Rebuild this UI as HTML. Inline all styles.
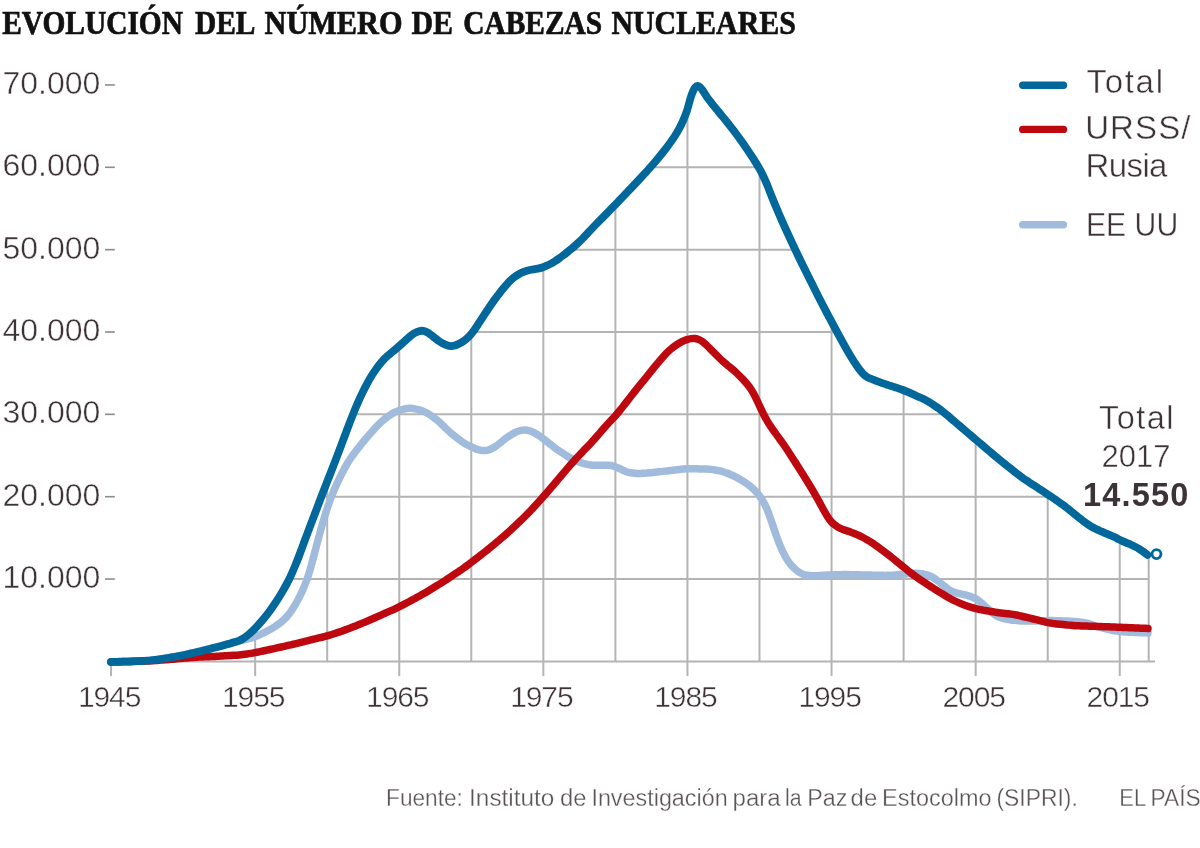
<!DOCTYPE html>
<html lang="es"><head><meta charset="utf-8">
<title>Evolución del número de cabezas nucleares</title>
<style>
html,body{margin:0;padding:0;background:#fff;}
body{width:1200px;height:848px;overflow:hidden;position:relative;}
svg{position:absolute;left:0;top:0;display:block;}
text{font-family:"Liberation Sans",sans-serif;fill:#3c3237;stroke:#fff;stroke-width:0.45px;}
.bold{stroke:none;}
.title{font-family:"Liberation Serif",serif;font-weight:bold;fill:#111;stroke:#111;stroke-width:0.7px;}
.foot{fill:#5a5456;stroke-width:0.3px;}
</style></head><body>
<svg width="1200" height="848" viewBox="0 0 1200 848">
<rect width="1200" height="848" fill="#fff"/>
<defs><clipPath id="under"><path d="M111.00 661.90C111.67 661.89 113.67 661.86 115.00 661.84C116.33 661.82 117.67 661.79 119.00 661.77C120.33 661.75 121.67 661.73 123.00 661.71C124.33 661.68 125.67 661.66 127.00 661.63C128.33 661.59 129.67 661.55 131.00 661.50C132.33 661.45 133.67 661.38 135.00 661.32C136.33 661.25 137.67 661.18 139.00 661.10C140.33 661.03 141.67 660.96 143.00 660.88C144.33 660.80 145.67 660.73 147.00 660.63C148.33 660.53 149.67 660.43 151.00 660.30C152.33 660.18 153.67 660.03 155.00 659.88C156.33 659.72 157.67 659.55 159.00 659.36C160.33 659.18 161.67 658.97 163.00 658.76C164.33 658.55 165.67 658.33 167.00 658.11C168.33 657.88 169.67 657.66 171.00 657.43C172.33 657.20 173.67 656.98 175.00 656.74C176.33 656.50 177.67 656.26 179.00 656.01C180.33 655.75 181.67 655.48 183.00 655.20C184.33 654.92 185.67 654.62 187.00 654.32C188.33 654.03 189.67 653.72 191.00 653.42C192.33 653.12 193.67 652.82 195.00 652.52C196.33 652.21 197.67 651.91 199.00 651.59C200.33 651.27 201.67 650.95 203.00 650.62C204.33 650.29 205.67 649.95 207.00 649.61C208.33 649.28 209.67 648.94 211.00 648.59C212.33 648.25 213.67 647.91 215.00 647.57C216.33 647.22 217.67 646.88 219.00 646.52C220.33 646.16 221.67 645.80 223.00 645.43C224.33 645.06 225.67 644.68 227.00 644.30C228.33 643.92 229.67 643.54 231.00 643.16C232.33 642.78 233.67 642.42 235.00 642.01C236.33 641.61 237.67 641.31 239.00 640.74C240.33 640.17 241.67 639.42 243.00 638.59C244.33 637.75 245.67 636.77 247.00 635.72C248.33 634.67 249.67 633.48 251.00 632.28C252.33 631.08 253.67 629.85 255.00 628.50C256.33 627.15 257.67 625.68 259.00 624.18C260.33 622.68 261.67 621.11 263.00 619.50C264.33 617.89 265.67 616.24 267.00 614.52C268.33 612.79 269.67 611.01 271.00 609.15C272.33 607.30 273.67 605.37 275.00 603.37C276.33 601.38 277.67 599.33 279.00 597.20C280.33 595.07 281.67 592.91 283.00 590.61C284.33 588.30 285.67 585.95 287.00 583.39C288.33 580.84 289.67 578.15 291.00 575.27C292.33 572.39 293.67 569.34 295.00 566.12C296.33 562.91 297.67 559.45 299.00 555.98C300.33 552.50 301.67 548.82 303.00 545.25C304.33 541.67 305.67 538.07 307.00 534.51C308.33 530.96 309.67 527.45 311.00 523.93C312.33 520.41 313.67 516.90 315.00 513.39C316.33 509.88 317.67 506.35 319.00 502.85C320.33 499.35 321.67 495.85 323.00 492.39C324.33 488.93 325.67 485.51 327.00 482.10C328.33 478.70 329.67 475.35 331.00 471.95C332.33 468.55 333.67 465.15 335.00 461.68C336.33 458.22 337.67 454.68 339.00 451.15C340.33 447.61 341.67 444.02 343.00 440.47C344.33 436.93 345.67 433.38 347.00 429.88C348.33 426.38 349.67 422.88 351.00 419.46C352.33 416.05 353.67 412.62 355.00 409.39C356.33 406.16 357.67 403.03 359.00 400.07C360.33 397.12 361.67 394.34 363.00 391.63C364.33 388.92 365.67 386.29 367.00 383.82C368.33 381.35 369.67 378.98 371.00 376.79C372.33 374.59 373.67 372.59 375.00 370.65C376.33 368.71 377.67 366.86 379.00 365.15C380.33 363.44 381.67 361.82 383.00 360.38C384.33 358.93 385.67 357.68 387.00 356.46C388.33 355.23 389.67 354.16 391.00 353.03C392.33 351.91 393.67 350.83 395.00 349.70C396.33 348.58 397.67 347.45 399.00 346.27C400.33 345.10 401.67 343.88 403.00 342.67C404.33 341.46 405.67 340.18 407.00 339.01C408.33 337.83 409.67 336.63 411.00 335.61C412.33 334.60 413.67 333.66 415.00 332.92C416.33 332.18 417.67 331.51 419.00 331.17C420.33 330.82 421.67 330.65 423.00 330.84C424.33 331.02 425.67 331.58 427.00 332.26C428.33 332.94 429.67 333.95 431.00 334.92C432.33 335.89 433.67 337.05 435.00 338.09C436.33 339.12 437.67 340.22 439.00 341.14C440.33 342.05 441.67 342.89 443.00 343.58C444.33 344.28 445.67 344.91 447.00 345.32C448.33 345.74 449.67 346.05 451.00 346.08C452.33 346.10 453.67 345.85 455.00 345.48C456.33 345.11 457.67 344.51 459.00 343.85C460.33 343.18 461.67 342.41 463.00 341.49C464.33 340.57 465.67 339.55 467.00 338.33C468.33 337.11 469.67 335.74 471.00 334.17C472.33 332.60 473.67 330.78 475.00 328.91C476.33 327.03 477.67 324.95 479.00 322.94C480.33 320.93 481.67 318.85 483.00 316.82C484.33 314.80 485.67 312.77 487.00 310.77C488.33 308.77 489.67 306.77 491.00 304.83C492.33 302.90 493.67 300.98 495.00 299.15C496.33 297.32 497.67 295.56 499.00 293.83C500.33 292.11 501.67 290.43 503.00 288.79C504.33 287.16 505.67 285.51 507.00 284.04C508.33 282.56 509.67 281.16 511.00 279.93C512.33 278.71 513.67 277.65 515.00 276.68C516.33 275.71 517.67 274.87 519.00 274.12C520.33 273.37 521.67 272.74 523.00 272.18C524.33 271.63 525.67 271.17 527.00 270.77C528.33 270.37 529.67 270.05 531.00 269.77C532.33 269.49 533.67 269.32 535.00 269.09C536.33 268.85 537.67 268.66 539.00 268.35C540.33 268.03 541.67 267.65 543.00 267.19C544.33 266.73 545.67 266.19 547.00 265.58C548.33 264.98 549.67 264.31 551.00 263.57C552.33 262.84 553.67 262.02 555.00 261.17C556.33 260.32 557.67 259.42 559.00 258.47C560.33 257.53 561.67 256.54 563.00 255.52C564.33 254.50 565.67 253.44 567.00 252.37C568.33 251.30 569.67 250.21 571.00 249.11C572.33 248.00 573.67 246.90 575.00 245.74C576.33 244.57 577.67 243.40 579.00 242.13C580.33 240.86 581.67 239.51 583.00 238.13C584.33 236.76 585.67 235.29 587.00 233.86C588.33 232.43 589.67 230.99 591.00 229.58C592.33 228.18 593.67 226.79 595.00 225.42C596.33 224.04 597.67 222.68 599.00 221.32C600.33 219.96 601.67 218.60 603.00 217.24C604.33 215.88 605.67 214.52 607.00 213.16C608.33 211.80 609.67 210.44 611.00 209.07C612.33 207.70 613.67 206.33 615.00 204.95C616.33 203.57 617.67 202.18 619.00 200.79C620.33 199.40 621.67 198.00 623.00 196.60C624.33 195.20 625.67 193.80 627.00 192.40C628.33 191.00 629.67 189.60 631.00 188.20C632.33 186.80 633.67 185.40 635.00 183.99C636.33 182.58 637.67 181.17 639.00 179.74C640.33 178.31 641.67 176.87 643.00 175.42C644.33 173.97 645.67 172.51 647.00 171.03C648.33 169.55 649.67 168.07 651.00 166.55C652.33 165.04 653.67 163.50 655.00 161.93C656.33 160.37 657.67 158.78 659.00 157.17C660.33 155.56 661.67 153.94 663.00 152.26C664.33 150.58 665.67 148.87 667.00 147.10C668.33 145.33 669.67 143.53 671.00 141.63C672.33 139.74 673.67 137.84 675.00 135.73C676.33 133.63 677.67 131.48 679.00 129.01C680.33 126.53 681.67 123.92 683.00 120.86C684.33 117.79 685.67 114.68 687.00 110.62C688.33 106.57 689.67 100.37 691.00 96.54C692.33 92.71 693.67 89.33 695.00 87.64C696.33 85.94 697.67 85.83 699.00 86.37C700.33 86.92 701.67 89.11 703.00 90.90C704.33 92.69 705.67 95.22 707.00 97.12C708.33 99.03 709.67 100.62 711.00 102.33C712.33 104.03 713.67 105.70 715.00 107.36C716.33 109.01 717.67 110.65 719.00 112.27C720.33 113.90 721.67 115.50 723.00 117.12C724.33 118.75 725.67 120.37 727.00 122.04C728.33 123.70 729.67 125.39 731.00 127.09C732.33 128.80 733.67 130.53 735.00 132.29C736.33 134.05 737.67 135.82 739.00 137.66C740.33 139.49 741.67 141.37 743.00 143.28C744.33 145.20 745.67 147.16 747.00 149.14C748.33 151.12 749.67 153.12 751.00 155.15C752.33 157.19 753.67 159.24 755.00 161.37C756.33 163.50 757.67 165.59 759.00 167.95C760.33 170.30 761.67 172.72 763.00 175.50C764.33 178.27 765.67 181.41 767.00 184.59C768.33 187.78 769.67 191.30 771.00 194.63C772.33 197.96 773.67 201.33 775.00 204.56C776.33 207.78 777.67 210.91 779.00 213.99C780.33 217.08 781.67 220.09 783.00 223.08C784.33 226.07 785.67 229.03 787.00 231.96C788.33 234.88 789.67 237.77 791.00 240.63C792.33 243.50 793.67 246.33 795.00 249.14C796.33 251.96 797.67 254.74 799.00 257.50C800.33 260.25 801.67 262.96 803.00 265.66C804.33 268.36 805.67 271.02 807.00 273.70C808.33 276.37 809.67 279.03 811.00 281.70C812.33 284.37 813.67 287.04 815.00 289.69C816.33 292.35 817.67 295.02 819.00 297.65C820.33 300.28 821.67 302.89 823.00 305.47C824.33 308.05 825.67 310.58 827.00 313.11C828.33 315.63 829.67 318.12 831.00 320.63C832.33 323.13 833.67 325.62 835.00 328.11C836.33 330.60 837.67 333.09 839.00 335.56C840.33 338.03 841.67 340.51 843.00 342.91C844.33 345.31 845.67 347.68 847.00 349.97C848.33 352.27 849.67 354.49 851.00 356.68C852.33 358.87 853.67 361.06 855.00 363.11C856.33 365.15 857.67 367.21 859.00 368.97C860.33 370.73 861.67 372.33 863.00 373.66C864.33 374.99 865.67 376.11 867.00 376.96C868.33 377.81 869.67 378.18 871.00 378.75C872.33 379.31 873.67 379.82 875.00 380.35C876.33 380.88 877.67 381.42 879.00 381.92C880.33 382.42 881.67 382.90 883.00 383.36C884.33 383.83 885.67 384.27 887.00 384.70C888.33 385.14 889.67 385.56 891.00 385.99C892.33 386.42 893.67 386.84 895.00 387.27C896.33 387.70 897.67 388.12 899.00 388.57C900.33 389.02 901.67 389.48 903.00 389.99C904.33 390.49 905.67 391.04 907.00 391.60C908.33 392.16 909.67 392.77 911.00 393.36C912.33 393.96 913.67 394.56 915.00 395.17C916.33 395.77 917.67 396.37 919.00 396.99C920.33 397.60 921.67 398.20 923.00 398.86C924.33 399.52 925.67 400.19 927.00 400.93C928.33 401.67 929.67 402.48 931.00 403.31C932.33 404.15 933.67 405.03 935.00 405.93C936.33 406.83 937.67 407.74 939.00 408.71C940.33 409.67 941.67 410.69 943.00 411.74C944.33 412.80 945.67 413.92 947.00 415.04C948.33 416.16 949.67 417.32 951.00 418.46C952.33 419.60 953.67 420.75 955.00 421.89C956.33 423.03 957.67 424.17 959.00 425.31C960.33 426.45 961.67 427.59 963.00 428.73C964.33 429.88 965.67 431.02 967.00 432.16C968.33 433.30 969.67 434.44 971.00 435.57C972.33 436.71 973.67 437.85 975.00 438.98C976.33 440.12 977.67 441.25 979.00 442.38C980.33 443.51 981.67 444.64 983.00 445.77C984.33 446.90 985.67 448.03 987.00 449.16C988.33 450.29 989.67 451.42 991.00 452.55C992.33 453.68 993.67 454.80 995.00 455.92C996.33 457.03 997.67 458.14 999.00 459.23C1000.33 460.32 1001.67 461.40 1003.00 462.48C1004.33 463.55 1005.67 464.62 1007.00 465.69C1008.33 466.76 1009.67 467.82 1011.00 468.89C1012.33 469.96 1013.67 471.03 1015.00 472.08C1016.33 473.13 1017.67 474.19 1019.00 475.20C1020.33 476.21 1021.67 477.19 1023.00 478.13C1024.33 479.07 1025.67 479.95 1027.00 480.84C1028.33 481.73 1029.67 482.59 1031.00 483.46C1032.33 484.33 1033.67 485.19 1035.00 486.05C1036.33 486.92 1037.67 487.78 1039.00 488.65C1040.33 489.52 1041.67 490.38 1043.00 491.26C1044.33 492.13 1045.67 493.01 1047.00 493.90C1048.33 494.79 1049.67 495.68 1051.00 496.58C1052.33 497.48 1053.67 498.38 1055.00 499.29C1056.33 500.21 1057.67 501.13 1059.00 502.08C1060.33 503.02 1061.67 503.99 1063.00 504.98C1064.33 505.97 1065.67 506.97 1067.00 508.01C1068.33 509.04 1069.67 510.10 1071.00 511.17C1072.33 512.24 1073.67 513.34 1075.00 514.43C1076.33 515.52 1077.67 516.63 1079.00 517.70C1080.33 518.76 1081.67 519.83 1083.00 520.83C1084.33 521.84 1085.67 522.82 1087.00 523.73C1088.33 524.65 1089.67 525.53 1091.00 526.33C1092.33 527.13 1093.67 527.86 1095.00 528.54C1096.33 529.22 1097.67 529.82 1099.00 530.43C1100.33 531.03 1101.67 531.60 1103.00 532.18C1104.33 532.75 1105.67 533.30 1107.00 533.86C1108.33 534.43 1109.67 534.96 1111.00 535.55C1112.33 536.13 1113.67 536.72 1115.00 537.35C1116.33 537.99 1117.67 538.70 1119.00 539.37C1120.33 540.04 1121.67 540.74 1123.00 541.36C1124.33 541.98 1125.67 542.52 1127.00 543.08C1128.33 543.63 1129.67 544.12 1131.00 544.71C1132.33 545.29 1133.67 545.90 1135.00 546.59C1136.33 547.27 1137.67 547.99 1139.00 548.81C1140.33 549.64 1141.58 550.52 1143.00 551.54C1144.42 552.56 1146.75 554.36 1147.50 554.92L1149.30 663.40 L111.00 663.40 Z"/></clipPath></defs>
<g class="title" font-size="34.3" stroke="#111" stroke-width="0.7">
<text class="title" x="2.20" y="33.8" textLength="180.80" lengthAdjust="spacingAndGlyphs">EVOLUCIÓN</text>
<text class="title" x="195.00" y="33.8" textLength="60.50" lengthAdjust="spacingAndGlyphs">DEL</text>
<text class="title" x="264.50" y="33.8" textLength="138.00" lengthAdjust="spacingAndGlyphs">NÚMERO</text>
<text class="title" x="411.50" y="33.8" textLength="41.50" lengthAdjust="spacingAndGlyphs">DE</text>
<text class="title" x="463.25" y="33.8" textLength="138.95" lengthAdjust="spacingAndGlyphs">CABEZAS</text>
<text class="title" x="611.40" y="33.8" textLength="184.40" lengthAdjust="spacingAndGlyphs">NUCLEARES</text>
</g>
<g clip-path="url(#under)" stroke="#b4b4b4" stroke-width="2" fill="none">
<line x1="183.10" y1="70" x2="183.10" y2="661.40"/>
<line x1="255.15" y1="70" x2="255.15" y2="661.40"/>
<line x1="327.20" y1="70" x2="327.20" y2="661.40"/>
<line x1="399.25" y1="70" x2="399.25" y2="661.40"/>
<line x1="471.30" y1="70" x2="471.30" y2="661.40"/>
<line x1="543.35" y1="70" x2="543.35" y2="661.40"/>
<line x1="615.40" y1="70" x2="615.40" y2="661.40"/>
<line x1="687.45" y1="70" x2="687.45" y2="661.40"/>
<line x1="759.50" y1="70" x2="759.50" y2="661.40"/>
<line x1="831.55" y1="70" x2="831.55" y2="661.40"/>
<line x1="903.60" y1="70" x2="903.60" y2="661.40"/>
<line x1="975.65" y1="70" x2="975.65" y2="661.40"/>
<line x1="1047.70" y1="70" x2="1047.70" y2="661.40"/>
<line x1="1119.75" y1="70" x2="1119.75" y2="661.40"/>
<line x1="100" y1="579.05" x2="1160" y2="579.05"/>
<line x1="100" y1="496.70" x2="1160" y2="496.70"/>
<line x1="100" y1="414.35" x2="1160" y2="414.35"/>
<line x1="100" y1="332.00" x2="1160" y2="332.00"/>
<line x1="100" y1="249.65" x2="1160" y2="249.65"/>
<line x1="100" y1="167.30" x2="1160" y2="167.30"/>
<line x1="100" y1="84.95" x2="1160" y2="84.95"/>
</g>
<g stroke="#b4b4b4" stroke-width="2" fill="none">
<line x1="111" y1="661.40" x2="1155" y2="661.40"/>
<line x1="1148.7" y1="556" x2="1148.7" y2="661.40"/>
<line x1="111.05" y1="661.40" x2="111.05" y2="676.10"/>
<line x1="255.15" y1="661.40" x2="255.15" y2="676.10"/>
<line x1="399.25" y1="661.40" x2="399.25" y2="676.10"/>
<line x1="543.35" y1="661.40" x2="543.35" y2="676.10"/>
<line x1="687.45" y1="661.40" x2="687.45" y2="676.10"/>
<line x1="831.55" y1="661.40" x2="831.55" y2="676.10"/>
<line x1="975.65" y1="661.40" x2="975.65" y2="676.10"/>
<line x1="1119.75" y1="661.40" x2="1119.75" y2="676.10"/>
</g>
<g stroke="#8a8a8a" stroke-width="1.6" fill="none">
<line x1="105" y1="579.05" x2="114.8" y2="579.05"/>
<line x1="105" y1="496.70" x2="114.8" y2="496.70"/>
<line x1="105" y1="414.35" x2="114.8" y2="414.35"/>
<line x1="105" y1="332.00" x2="114.8" y2="332.00"/>
<line x1="105" y1="249.65" x2="114.8" y2="249.65"/>
<line x1="105" y1="167.30" x2="114.8" y2="167.30"/>
<line x1="105" y1="84.95" x2="114.8" y2="84.95"/>
</g>
<g fill="none" stroke-linecap="round" stroke-linejoin="round" stroke-width="7.6">
<path stroke="#a0bbdb" stroke-width="7.5" d="M111.00 661.90C111.67 661.89 113.67 661.86 115.00 661.84C116.33 661.82 117.67 661.79 119.00 661.77C120.33 661.75 121.67 661.73 123.00 661.71C124.33 661.68 125.67 661.66 127.00 661.63C128.33 661.59 129.67 661.55 131.00 661.50C132.33 661.45 133.67 661.38 135.00 661.32C136.33 661.25 137.67 661.18 139.00 661.10C140.33 661.03 141.67 660.96 143.00 660.88C144.33 660.80 145.67 660.73 147.00 660.63C148.33 660.53 149.67 660.43 151.00 660.30C152.33 660.18 153.67 660.03 155.00 659.88C156.33 659.72 157.67 659.55 159.00 659.36C160.33 659.18 161.67 658.97 163.00 658.76C164.33 658.55 165.67 658.33 167.00 658.11C168.33 657.88 169.67 657.66 171.00 657.43C172.33 657.20 173.67 656.98 175.00 656.74C176.33 656.50 177.67 656.26 179.00 656.01C180.33 655.75 181.67 655.48 183.00 655.20C184.33 654.92 185.67 654.62 187.00 654.32C188.33 654.03 189.67 653.72 191.00 653.42C192.33 653.12 193.67 652.82 195.00 652.52C196.33 652.21 197.67 651.91 199.00 651.59C200.33 651.27 201.67 650.95 203.00 650.62C204.33 650.29 205.67 649.95 207.00 649.61C208.33 649.28 209.67 648.93 211.00 648.59C212.33 648.25 213.67 647.91 215.00 647.57C216.33 647.23 217.67 646.88 219.00 646.53C220.33 646.18 221.67 645.82 223.00 645.46C224.33 645.10 225.67 644.74 227.00 644.37C228.33 644.01 229.67 643.64 231.00 643.28C232.33 642.91 233.67 642.54 235.00 642.18C236.33 641.82 237.67 641.46 239.00 641.10C240.33 640.75 241.67 640.41 243.00 640.07C244.33 639.73 245.67 639.41 247.00 639.07C248.33 638.74 249.67 638.44 251.00 638.06C252.33 637.69 253.67 637.31 255.00 636.82C256.33 636.34 257.67 635.76 259.00 635.15C260.33 634.54 261.67 633.85 263.00 633.18C264.33 632.50 265.67 631.81 267.00 631.10C268.33 630.39 269.67 629.69 271.00 628.93C272.33 628.18 273.67 627.42 275.00 626.58C276.33 625.73 277.67 624.87 279.00 623.87C280.33 622.87 281.67 621.81 283.00 620.57C284.33 619.34 285.67 618.01 287.00 616.47C288.33 614.92 289.67 613.21 291.00 611.31C292.33 609.42 293.67 607.33 295.00 605.10C296.33 602.86 297.67 600.49 299.00 597.90C300.33 595.32 301.67 592.65 303.00 589.57C304.33 586.48 305.67 583.23 307.00 579.38C308.33 575.52 309.67 571.06 311.00 566.42C312.33 561.78 313.67 556.51 315.00 551.51C316.33 546.51 317.67 541.32 319.00 536.41C320.33 531.49 321.67 526.58 323.00 522.03C324.33 517.48 325.67 513.17 327.00 509.12C328.33 505.08 329.67 501.30 331.00 497.78C332.33 494.26 333.67 491.08 335.00 488.02C336.33 484.95 337.67 482.16 339.00 479.38C340.33 476.60 341.67 473.91 343.00 471.35C344.33 468.78 345.67 466.28 347.00 464.01C348.33 461.75 349.67 459.71 351.00 457.76C352.33 455.80 353.67 454.06 355.00 452.29C356.33 450.52 357.67 448.81 359.00 447.12C360.33 445.43 361.67 443.76 363.00 442.14C364.33 440.52 365.67 438.96 367.00 437.40C368.33 435.84 369.67 434.31 371.00 432.80C372.33 431.28 373.67 429.74 375.00 428.29C376.33 426.84 377.67 425.40 379.00 424.09C380.33 422.79 381.67 421.59 383.00 420.46C384.33 419.32 385.67 418.30 387.00 417.29C388.33 416.29 389.67 415.29 391.00 414.42C392.33 413.54 393.67 412.71 395.00 412.05C396.33 411.38 397.67 410.88 399.00 410.42C400.33 409.96 401.67 409.62 403.00 409.30C404.33 408.98 405.67 408.68 407.00 408.51C408.33 408.35 409.67 408.26 411.00 408.32C412.33 408.38 413.67 408.61 415.00 408.85C416.33 409.10 417.67 409.44 419.00 409.81C420.33 410.19 421.67 410.57 423.00 411.11C424.33 411.64 425.67 412.27 427.00 413.01C428.33 413.74 429.67 414.62 431.00 415.53C432.33 416.44 433.67 417.40 435.00 418.45C436.33 419.49 437.67 420.60 439.00 421.79C440.33 422.97 441.67 424.26 443.00 425.53C444.33 426.80 445.67 428.14 447.00 429.40C448.33 430.66 449.67 431.90 451.00 433.07C452.33 434.25 453.67 435.36 455.00 436.45C456.33 437.53 457.67 438.59 459.00 439.57C460.33 440.55 461.67 441.49 463.00 442.34C464.33 443.19 465.67 443.94 467.00 444.67C468.33 445.39 469.67 446.05 471.00 446.68C472.33 447.30 473.67 447.90 475.00 448.43C476.33 448.95 477.67 449.44 479.00 449.80C480.33 450.16 481.67 450.48 483.00 450.57C484.33 450.66 485.67 450.58 487.00 450.31C488.33 450.05 489.67 449.56 491.00 448.97C492.33 448.38 493.67 447.63 495.00 446.78C496.33 445.93 497.67 444.90 499.00 443.87C500.33 442.85 501.67 441.69 503.00 440.64C504.33 439.59 505.67 438.54 507.00 437.57C508.33 436.60 509.67 435.68 511.00 434.85C512.33 434.02 513.67 433.25 515.00 432.60C516.33 431.96 517.67 431.41 519.00 431.00C520.33 430.59 521.67 430.25 523.00 430.13C524.33 430.00 525.67 430.03 527.00 430.23C528.33 430.42 529.67 430.82 531.00 431.31C532.33 431.79 533.67 432.42 535.00 433.14C536.33 433.86 537.67 434.74 539.00 435.64C540.33 436.54 541.67 437.55 543.00 438.55C544.33 439.55 545.67 440.60 547.00 441.64C548.33 442.68 549.67 443.75 551.00 444.79C552.33 445.83 553.67 446.89 555.00 447.89C556.33 448.89 557.67 449.86 559.00 450.79C560.33 451.72 561.67 452.59 563.00 453.45C564.33 454.32 565.67 455.17 567.00 455.98C568.33 456.79 569.67 457.60 571.00 458.33C572.33 459.06 573.67 459.73 575.00 460.35C576.33 460.97 577.67 461.53 579.00 462.04C580.33 462.56 581.67 463.05 583.00 463.45C584.33 463.84 585.67 464.16 587.00 464.41C588.33 464.65 589.67 464.80 591.00 464.93C592.33 465.07 593.67 465.15 595.00 465.22C596.33 465.29 597.67 465.32 599.00 465.33C600.33 465.34 601.67 465.31 603.00 465.28C604.33 465.26 605.67 465.16 607.00 465.19C608.33 465.22 609.67 465.23 611.00 465.48C612.33 465.73 613.67 466.22 615.00 466.68C616.33 467.15 617.67 467.70 619.00 468.29C620.33 468.89 621.67 469.63 623.00 470.25C624.33 470.86 625.67 471.57 627.00 471.98C628.33 472.40 629.67 472.56 631.00 472.76C632.33 472.96 633.67 473.08 635.00 473.19C636.33 473.30 637.67 473.39 639.00 473.42C640.33 473.45 641.67 473.41 643.00 473.35C644.33 473.28 645.67 473.15 647.00 473.04C648.33 472.92 649.67 472.78 651.00 472.65C652.33 472.52 653.67 472.38 655.00 472.25C656.33 472.11 657.67 471.97 659.00 471.83C660.33 471.68 661.67 471.53 663.00 471.38C664.33 471.23 665.67 471.07 667.00 470.91C668.33 470.75 669.67 470.59 671.00 470.43C672.33 470.27 673.67 470.11 675.00 469.95C676.33 469.79 677.67 469.63 679.00 469.49C680.33 469.34 681.67 469.19 683.00 469.09C684.33 468.99 685.67 468.92 687.00 468.87C688.33 468.83 689.67 468.83 691.00 468.83C692.33 468.82 693.67 468.84 695.00 468.85C696.33 468.86 697.67 468.88 699.00 468.89C700.33 468.91 701.67 468.91 703.00 468.94C704.33 468.97 705.67 468.99 707.00 469.06C708.33 469.13 709.67 469.23 711.00 469.37C712.33 469.52 713.67 469.72 715.00 469.94C716.33 470.17 717.67 470.41 719.00 470.71C720.33 471.02 721.67 471.35 723.00 471.75C724.33 472.15 725.67 472.62 727.00 473.11C728.33 473.61 729.67 474.15 731.00 474.72C732.33 475.30 733.67 475.90 735.00 476.57C736.33 477.24 737.67 477.96 739.00 478.72C740.33 479.48 741.67 480.28 743.00 481.13C744.33 481.98 745.67 482.86 747.00 483.83C748.33 484.80 749.67 485.82 751.00 486.94C752.33 488.07 753.67 489.22 755.00 490.58C756.33 491.95 757.67 493.37 759.00 495.14C760.33 496.91 761.67 498.83 763.00 501.18C764.33 503.53 765.67 506.11 767.00 509.24C768.33 512.38 769.67 516.22 771.00 520.00C772.33 523.77 773.67 528.06 775.00 531.88C776.33 535.69 777.67 539.51 779.00 542.89C780.33 546.27 781.67 549.40 783.00 552.15C784.33 554.89 785.67 557.24 787.00 559.37C788.33 561.50 789.67 563.32 791.00 564.94C792.33 566.56 793.67 567.89 795.00 569.09C796.33 570.29 797.67 571.30 799.00 572.15C800.33 572.99 801.67 573.63 803.00 574.15C804.33 574.68 805.67 575.02 807.00 575.29C808.33 575.57 809.67 575.72 811.00 575.81C812.33 575.90 813.67 575.86 815.00 575.83C816.33 575.79 817.67 575.69 819.00 575.60C820.33 575.52 821.67 575.42 823.00 575.33C824.33 575.25 825.67 575.16 827.00 575.09C828.33 575.02 829.67 574.97 831.00 574.92C832.33 574.87 833.67 574.83 835.00 574.79C836.33 574.75 837.67 574.71 839.00 574.68C840.33 574.65 841.67 574.61 843.00 574.60C844.33 574.59 845.67 574.58 847.00 574.59C848.33 574.60 849.67 574.63 851.00 574.66C852.33 574.68 853.67 574.72 855.00 574.75C856.33 574.78 857.67 574.82 859.00 574.85C860.33 574.88 861.67 574.91 863.00 574.95C864.33 574.98 865.67 575.01 867.00 575.04C868.33 575.06 869.67 575.09 871.00 575.12C872.33 575.15 873.67 575.17 875.00 575.20C876.33 575.23 877.67 575.25 879.00 575.28C880.33 575.30 881.67 575.34 883.00 575.35C884.33 575.37 885.67 575.39 887.00 575.37C888.33 575.35 889.67 575.31 891.00 575.23C892.33 575.15 893.67 575.02 895.00 574.89C896.33 574.76 897.67 574.60 899.00 574.46C900.33 574.31 901.67 574.16 903.00 574.04C904.33 573.91 905.67 573.80 907.00 573.70C908.33 573.61 909.67 573.53 911.00 573.46C912.33 573.40 913.67 573.32 915.00 573.31C916.33 573.30 917.67 573.30 919.00 573.40C920.33 573.51 921.67 573.69 923.00 573.95C924.33 574.20 925.67 574.52 927.00 574.93C928.33 575.35 929.67 575.80 931.00 576.45C932.33 577.10 933.67 577.91 935.00 578.83C936.33 579.74 937.67 580.88 939.00 581.94C940.33 583.00 941.67 584.15 943.00 585.20C944.33 586.25 945.67 587.32 947.00 588.25C948.33 589.19 949.67 590.10 951.00 590.81C952.33 591.52 953.67 592.07 955.00 592.52C956.33 592.97 957.67 593.21 959.00 593.51C960.33 593.81 961.67 594.02 963.00 594.32C964.33 594.62 965.67 594.94 967.00 595.33C968.33 595.71 969.67 596.12 971.00 596.62C972.33 597.12 973.67 597.62 975.00 598.33C976.33 599.04 977.67 599.88 979.00 600.88C980.33 601.88 981.67 603.12 983.00 604.32C984.33 605.52 985.67 606.85 987.00 608.08C988.33 609.31 989.67 610.57 991.00 611.70C992.33 612.83 993.67 613.96 995.00 614.87C996.33 615.78 997.67 616.55 999.00 617.16C1000.33 617.76 1001.67 618.13 1003.00 618.49C1004.33 618.85 1005.67 619.09 1007.00 619.33C1008.33 619.57 1009.67 619.77 1011.00 619.95C1012.33 620.13 1013.67 620.26 1015.00 620.39C1016.33 620.52 1017.67 620.63 1019.00 620.73C1020.33 620.84 1021.67 620.93 1023.00 620.99C1024.33 621.05 1025.67 621.09 1027.00 621.10C1028.33 621.11 1029.67 621.08 1031.00 621.06C1032.33 621.03 1033.67 620.99 1035.00 620.95C1036.33 620.91 1037.67 620.87 1039.00 620.83C1040.33 620.79 1041.67 620.75 1043.00 620.71C1044.33 620.68 1045.67 620.64 1047.00 620.62C1048.33 620.60 1049.67 620.59 1051.00 620.60C1052.33 620.61 1053.67 620.63 1055.00 620.66C1056.33 620.69 1057.67 620.73 1059.00 620.77C1060.33 620.81 1061.67 620.85 1063.00 620.89C1064.33 620.93 1065.67 620.97 1067.00 621.01C1068.33 621.06 1069.67 621.10 1071.00 621.17C1072.33 621.24 1073.67 621.31 1075.00 621.43C1076.33 621.54 1077.67 621.68 1079.00 621.85C1080.33 622.02 1081.67 622.20 1083.00 622.43C1084.33 622.66 1085.67 622.91 1087.00 623.23C1088.33 623.55 1089.67 623.94 1091.00 624.35C1092.33 624.76 1093.67 625.24 1095.00 625.69C1096.33 626.13 1097.67 626.59 1099.00 627.00C1100.33 627.41 1101.67 627.80 1103.00 628.16C1104.33 628.51 1105.67 628.84 1107.00 629.15C1108.33 629.47 1109.67 629.76 1111.00 630.03C1112.33 630.29 1113.67 630.52 1115.00 630.72C1116.33 630.93 1117.67 631.10 1119.00 631.26C1120.33 631.42 1121.67 631.57 1123.00 631.70C1124.33 631.83 1125.67 631.93 1127.00 632.03C1128.33 632.12 1129.67 632.18 1131.00 632.25C1132.33 632.32 1133.67 632.37 1135.00 632.43C1136.33 632.49 1137.67 632.54 1139.00 632.60C1140.33 632.66 1141.50 632.71 1143.00 632.77C1144.50 632.84 1147.17 632.95 1148.00 632.98"/>
<path stroke="#bd0810" stroke-width="7.5" d="M111.00 661.90C111.67 661.88 113.67 661.83 115.00 661.80C116.33 661.76 117.67 661.73 119.00 661.69C120.33 661.66 121.67 661.63 123.00 661.59C124.33 661.56 125.67 661.52 127.00 661.49C128.33 661.46 129.67 661.42 131.00 661.39C132.33 661.35 133.67 661.32 135.00 661.28C136.33 661.25 137.67 661.22 139.00 661.18C140.33 661.15 141.67 661.11 143.00 661.08C144.33 661.04 145.67 661.00 147.00 660.95C148.33 660.90 149.67 660.85 151.00 660.78C152.33 660.71 153.67 660.63 155.00 660.54C156.33 660.46 157.67 660.36 159.00 660.27C160.33 660.18 161.67 660.08 163.00 659.99C164.33 659.89 165.67 659.80 167.00 659.69C168.33 659.59 169.67 659.48 171.00 659.37C172.33 659.25 173.67 659.12 175.00 658.99C176.33 658.87 177.67 658.73 179.00 658.60C180.33 658.48 181.67 658.34 183.00 658.23C184.33 658.11 185.67 658.00 187.00 657.89C188.33 657.79 189.67 657.70 191.00 657.60C192.33 657.51 193.67 657.42 195.00 657.34C196.33 657.25 197.67 657.17 199.00 657.10C200.33 657.02 201.67 656.96 203.00 656.89C204.33 656.83 205.67 656.78 207.00 656.72C208.33 656.67 209.67 656.61 211.00 656.56C212.33 656.51 213.67 656.45 215.00 656.39C216.33 656.34 217.67 656.28 219.00 656.21C220.33 656.14 221.67 656.07 223.00 655.99C224.33 655.91 225.67 655.83 227.00 655.74C228.33 655.66 229.67 655.57 231.00 655.48C232.33 655.40 233.67 655.31 235.00 655.21C236.33 655.12 237.67 655.02 239.00 654.90C240.33 654.78 241.67 654.65 243.00 654.51C244.33 654.36 245.67 654.20 247.00 654.01C248.33 653.83 249.67 653.62 251.00 653.39C252.33 653.17 253.67 652.91 255.00 652.65C256.33 652.39 257.67 652.11 259.00 651.84C260.33 651.56 261.67 651.28 263.00 651.00C264.33 650.72 265.67 650.44 267.00 650.15C268.33 649.86 269.67 649.57 271.00 649.28C272.33 648.99 273.67 648.69 275.00 648.40C276.33 648.10 277.67 647.81 279.00 647.51C280.33 647.22 281.67 646.92 283.00 646.62C284.33 646.32 285.67 646.02 287.00 645.71C288.33 645.41 289.67 645.11 291.00 644.80C292.33 644.49 293.67 644.18 295.00 643.86C296.33 643.54 297.67 643.21 299.00 642.88C300.33 642.55 301.67 642.21 303.00 641.87C304.33 641.54 305.67 641.20 307.00 640.87C308.33 640.54 309.67 640.21 311.00 639.88C312.33 639.55 313.67 639.23 315.00 638.91C316.33 638.59 317.67 638.28 319.00 637.96C320.33 637.64 321.67 637.32 323.00 636.99C324.33 636.65 325.67 636.31 327.00 635.94C328.33 635.57 329.67 635.17 331.00 634.76C332.33 634.35 333.67 633.93 335.00 633.49C336.33 633.06 337.67 632.62 339.00 632.15C340.33 631.69 341.67 631.22 343.00 630.73C344.33 630.24 345.67 629.74 347.00 629.24C348.33 628.73 349.67 628.22 351.00 627.71C352.33 627.19 353.67 626.68 355.00 626.15C356.33 625.62 357.67 625.08 359.00 624.54C360.33 623.99 361.67 623.44 363.00 622.89C364.33 622.34 365.67 621.78 367.00 621.22C368.33 620.66 369.67 620.09 371.00 619.52C372.33 618.94 373.67 618.35 375.00 617.76C376.33 617.17 377.67 616.57 379.00 615.98C380.33 615.38 381.67 614.79 383.00 614.19C384.33 613.59 385.67 613.00 387.00 612.40C388.33 611.80 389.67 611.21 391.00 610.60C392.33 610.00 393.67 609.40 395.00 608.78C396.33 608.16 397.67 607.54 399.00 606.89C400.33 606.24 401.67 605.56 403.00 604.87C404.33 604.18 405.67 603.47 407.00 602.77C408.33 602.06 409.67 601.35 411.00 600.64C412.33 599.92 413.67 599.22 415.00 598.50C416.33 597.78 417.67 597.06 419.00 596.32C420.33 595.57 421.67 594.82 423.00 594.04C424.33 593.26 425.67 592.46 427.00 591.66C428.33 590.86 429.67 590.05 431.00 589.24C432.33 588.43 433.67 587.62 435.00 586.80C436.33 585.99 437.67 585.17 439.00 584.35C440.33 583.52 441.67 582.68 443.00 581.83C444.33 580.98 445.67 580.11 447.00 579.24C448.33 578.37 449.67 577.49 451.00 576.61C452.33 575.72 453.67 574.84 455.00 573.96C456.33 573.07 457.67 572.19 459.00 571.29C460.33 570.38 461.67 569.48 463.00 568.53C464.33 567.59 465.67 566.62 467.00 565.63C468.33 564.65 469.67 563.63 471.00 562.62C472.33 561.61 473.67 560.58 475.00 559.56C476.33 558.54 477.67 557.53 479.00 556.50C480.33 555.47 481.67 554.45 483.00 553.40C484.33 552.35 485.67 551.28 487.00 550.21C488.33 549.13 489.67 548.03 491.00 546.93C492.33 545.83 493.67 544.72 495.00 543.61C496.33 542.51 497.67 541.40 499.00 540.29C500.33 539.17 501.67 538.06 503.00 536.91C504.33 535.77 505.67 534.60 507.00 533.41C508.33 532.21 509.67 530.97 511.00 529.73C512.33 528.49 513.67 527.22 515.00 525.96C516.33 524.70 517.67 523.44 519.00 522.17C520.33 520.89 521.67 519.63 523.00 518.33C524.33 517.04 525.67 515.73 527.00 514.37C528.33 513.02 529.67 511.61 531.00 510.19C532.33 508.78 533.67 507.32 535.00 505.87C536.33 504.41 537.67 502.95 539.00 501.47C540.33 500.00 541.67 498.51 543.00 497.01C544.33 495.50 545.67 493.97 547.00 492.43C548.33 490.89 549.67 489.34 551.00 487.78C552.33 486.22 553.67 484.66 555.00 483.10C556.33 481.53 557.67 479.97 559.00 478.39C560.33 476.81 561.67 475.22 563.00 473.64C564.33 472.06 565.67 470.47 567.00 468.91C568.33 467.35 569.67 465.80 571.00 464.28C572.33 462.76 573.67 461.27 575.00 459.79C576.33 458.32 577.67 456.87 579.00 455.45C580.33 454.03 581.67 452.64 583.00 451.26C584.33 449.88 585.67 448.54 587.00 447.16C588.33 445.78 589.67 444.41 591.00 442.97C592.33 441.53 593.67 440.05 595.00 438.54C596.33 437.02 597.67 435.43 599.00 433.87C600.33 432.31 601.67 430.71 603.00 429.18C604.33 427.65 605.67 426.16 607.00 424.70C608.33 423.25 609.67 421.87 611.00 420.44C612.33 419.01 613.67 417.62 615.00 416.13C616.33 414.64 617.67 413.11 619.00 411.51C620.33 409.91 621.67 408.21 623.00 406.52C624.33 404.82 625.67 403.07 627.00 401.35C628.33 399.63 629.67 397.90 631.00 396.20C632.33 394.51 633.67 392.83 635.00 391.16C636.33 389.50 637.67 387.86 639.00 386.22C640.33 384.57 641.67 382.94 643.00 381.30C644.33 379.66 645.67 378.02 647.00 376.37C648.33 374.72 649.67 373.06 651.00 371.40C652.33 369.75 653.67 368.08 655.00 366.43C656.33 364.79 657.67 363.14 659.00 361.55C660.33 359.96 661.67 358.38 663.00 356.90C664.33 355.42 665.67 353.99 667.00 352.67C668.33 351.36 669.67 350.13 671.00 349.00C672.33 347.87 673.67 346.85 675.00 345.89C676.33 344.93 677.67 344.03 679.00 343.24C680.33 342.45 681.67 341.74 683.00 341.13C684.33 340.53 685.67 340.02 687.00 339.61C688.33 339.20 689.67 338.83 691.00 338.65C692.33 338.48 693.67 338.39 695.00 338.56C696.33 338.73 697.67 339.09 699.00 339.67C700.33 340.25 701.67 341.05 703.00 342.03C704.33 343.02 705.67 344.32 707.00 345.59C708.33 346.85 709.67 348.28 711.00 349.63C712.33 350.98 713.67 352.36 715.00 353.70C716.33 355.04 717.67 356.38 719.00 357.66C720.33 358.94 721.67 360.19 723.00 361.38C724.33 362.57 725.67 363.68 727.00 364.80C728.33 365.93 729.67 366.98 731.00 368.11C732.33 369.24 733.67 370.37 735.00 371.57C736.33 372.77 737.67 374.03 739.00 375.33C740.33 376.63 741.67 377.96 743.00 379.39C744.33 380.81 745.67 382.23 747.00 383.87C748.33 385.51 749.67 387.20 751.00 389.25C752.33 391.30 753.67 393.59 755.00 396.17C756.33 398.75 757.67 401.90 759.00 404.74C760.33 407.58 761.67 410.57 763.00 413.21C764.33 415.84 765.67 418.26 767.00 420.54C768.33 422.83 769.67 424.89 771.00 426.91C772.33 428.92 773.67 430.77 775.00 432.64C776.33 434.51 777.67 436.29 779.00 438.13C780.33 439.97 781.67 441.78 783.00 443.68C784.33 445.58 785.67 447.54 787.00 449.53C788.33 451.53 789.67 453.60 791.00 455.66C792.33 457.72 793.67 459.81 795.00 461.89C796.33 463.98 797.67 466.07 799.00 468.18C800.33 470.28 801.67 472.39 803.00 474.52C804.33 476.65 805.67 478.80 807.00 480.97C808.33 483.13 809.67 485.31 811.00 487.53C812.33 489.75 813.67 491.99 815.00 494.30C816.33 496.61 817.67 498.97 819.00 501.40C820.33 503.82 821.67 506.44 823.00 508.84C824.33 511.24 825.67 513.69 827.00 515.80C828.33 517.92 829.67 520.00 831.00 521.54C832.33 523.08 833.67 523.99 835.00 525.03C836.33 526.07 837.67 527.05 839.00 527.80C840.33 528.54 841.67 529.00 843.00 529.51C844.33 530.02 845.67 530.40 847.00 530.85C848.33 531.29 849.67 531.71 851.00 532.20C852.33 532.68 853.67 533.19 855.00 533.74C856.33 534.29 857.67 534.88 859.00 535.50C860.33 536.12 861.67 536.75 863.00 537.45C864.33 538.14 865.67 538.88 867.00 539.67C868.33 540.46 869.67 541.31 871.00 542.17C872.33 543.03 873.67 543.92 875.00 544.83C876.33 545.75 877.67 546.69 879.00 547.66C880.33 548.63 881.67 549.63 883.00 550.64C884.33 551.65 885.67 552.68 887.00 553.72C888.33 554.76 889.67 555.81 891.00 556.87C892.33 557.93 893.67 559.01 895.00 560.09C896.33 561.17 897.67 562.26 899.00 563.34C900.33 564.42 901.67 565.51 903.00 566.59C904.33 567.66 905.67 568.74 907.00 569.81C908.33 570.88 909.67 571.95 911.00 572.99C912.33 574.02 913.67 575.04 915.00 576.02C916.33 577.00 917.67 577.93 919.00 578.84C920.33 579.76 921.67 580.64 923.00 581.52C924.33 582.40 925.67 583.27 927.00 584.14C928.33 585.01 929.67 585.87 931.00 586.73C932.33 587.59 933.67 588.44 935.00 589.29C936.33 590.14 937.67 590.98 939.00 591.81C940.33 592.65 941.67 593.47 943.00 594.28C944.33 595.09 945.67 595.89 947.00 596.67C948.33 597.45 949.67 598.23 951.00 598.95C952.33 599.67 953.67 600.35 955.00 601.00C956.33 601.64 957.67 602.24 959.00 602.83C960.33 603.42 961.67 603.98 963.00 604.51C964.33 605.04 965.67 605.53 967.00 605.99C968.33 606.45 969.67 606.87 971.00 607.27C972.33 607.67 973.67 608.06 975.00 608.41C976.33 608.76 977.67 609.07 979.00 609.36C980.33 609.64 981.67 609.87 983.00 610.11C984.33 610.35 985.67 610.55 987.00 610.78C988.33 611.00 989.67 611.22 991.00 611.44C992.33 611.66 993.67 611.90 995.00 612.11C996.33 612.33 997.67 612.55 999.00 612.74C1000.33 612.93 1001.67 613.10 1003.00 613.26C1004.33 613.42 1005.67 613.55 1007.00 613.70C1008.33 613.85 1009.67 613.98 1011.00 614.15C1012.33 614.32 1013.67 614.51 1015.00 614.74C1016.33 614.97 1017.67 615.26 1019.00 615.55C1020.33 615.84 1021.67 616.18 1023.00 616.50C1024.33 616.82 1025.67 617.15 1027.00 617.47C1028.33 617.80 1029.67 618.12 1031.00 618.44C1032.33 618.76 1033.67 619.08 1035.00 619.41C1036.33 619.74 1037.67 620.07 1039.00 620.41C1040.33 620.74 1041.67 621.09 1043.00 621.42C1044.33 621.75 1045.67 622.10 1047.00 622.39C1048.33 622.68 1049.67 622.95 1051.00 623.17C1052.33 623.39 1053.67 623.55 1055.00 623.72C1056.33 623.88 1057.67 624.01 1059.00 624.15C1060.33 624.29 1061.67 624.42 1063.00 624.55C1064.33 624.68 1065.67 624.82 1067.00 624.95C1068.33 625.08 1069.67 625.21 1071.00 625.33C1072.33 625.44 1073.67 625.55 1075.00 625.64C1076.33 625.73 1077.67 625.79 1079.00 625.85C1080.33 625.90 1081.67 625.94 1083.00 625.99C1084.33 626.03 1085.67 626.07 1087.00 626.11C1088.33 626.15 1089.67 626.19 1091.00 626.23C1092.33 626.27 1093.67 626.31 1095.00 626.35C1096.33 626.39 1097.67 626.44 1099.00 626.48C1100.33 626.53 1101.67 626.58 1103.00 626.63C1104.33 626.68 1105.67 626.73 1107.00 626.78C1108.33 626.83 1109.67 626.89 1111.00 626.94C1112.33 626.99 1113.67 627.05 1115.00 627.10C1116.33 627.15 1117.67 627.21 1119.00 627.26C1120.33 627.31 1121.67 627.37 1123.00 627.42C1124.33 627.48 1125.67 627.53 1127.00 627.59C1128.33 627.64 1129.67 627.70 1131.00 627.76C1132.33 627.82 1133.67 627.87 1135.00 627.93C1136.33 627.99 1137.67 628.04 1139.00 628.10C1140.33 628.16 1141.50 628.21 1143.00 628.27C1144.50 628.34 1147.17 628.45 1148.00 628.48"/>
<path stroke="#02679b" stroke-width="7.8" d="M111.00 661.90C111.67 661.89 113.67 661.86 115.00 661.84C116.33 661.82 117.67 661.79 119.00 661.77C120.33 661.75 121.67 661.73 123.00 661.71C124.33 661.68 125.67 661.66 127.00 661.63C128.33 661.59 129.67 661.55 131.00 661.50C132.33 661.45 133.67 661.38 135.00 661.32C136.33 661.25 137.67 661.18 139.00 661.10C140.33 661.03 141.67 660.96 143.00 660.88C144.33 660.80 145.67 660.73 147.00 660.63C148.33 660.53 149.67 660.43 151.00 660.30C152.33 660.18 153.67 660.03 155.00 659.88C156.33 659.72 157.67 659.55 159.00 659.36C160.33 659.18 161.67 658.97 163.00 658.76C164.33 658.55 165.67 658.33 167.00 658.11C168.33 657.88 169.67 657.66 171.00 657.43C172.33 657.20 173.67 656.98 175.00 656.74C176.33 656.50 177.67 656.26 179.00 656.01C180.33 655.75 181.67 655.48 183.00 655.20C184.33 654.92 185.67 654.62 187.00 654.32C188.33 654.03 189.67 653.72 191.00 653.42C192.33 653.12 193.67 652.82 195.00 652.52C196.33 652.21 197.67 651.91 199.00 651.59C200.33 651.27 201.67 650.95 203.00 650.62C204.33 650.29 205.67 649.95 207.00 649.61C208.33 649.28 209.67 648.94 211.00 648.59C212.33 648.25 213.67 647.91 215.00 647.57C216.33 647.22 217.67 646.88 219.00 646.52C220.33 646.16 221.67 645.80 223.00 645.43C224.33 645.06 225.67 644.68 227.00 644.30C228.33 643.92 229.67 643.54 231.00 643.16C232.33 642.78 233.67 642.42 235.00 642.01C236.33 641.61 237.67 641.31 239.00 640.74C240.33 640.17 241.67 639.42 243.00 638.59C244.33 637.75 245.67 636.77 247.00 635.72C248.33 634.67 249.67 633.48 251.00 632.28C252.33 631.08 253.67 629.85 255.00 628.50C256.33 627.15 257.67 625.68 259.00 624.18C260.33 622.68 261.67 621.11 263.00 619.50C264.33 617.89 265.67 616.24 267.00 614.52C268.33 612.79 269.67 611.01 271.00 609.15C272.33 607.30 273.67 605.37 275.00 603.37C276.33 601.38 277.67 599.33 279.00 597.20C280.33 595.07 281.67 592.91 283.00 590.61C284.33 588.30 285.67 585.95 287.00 583.39C288.33 580.84 289.67 578.15 291.00 575.27C292.33 572.39 293.67 569.34 295.00 566.12C296.33 562.91 297.67 559.45 299.00 555.98C300.33 552.50 301.67 548.82 303.00 545.25C304.33 541.67 305.67 538.07 307.00 534.51C308.33 530.96 309.67 527.45 311.00 523.93C312.33 520.41 313.67 516.90 315.00 513.39C316.33 509.88 317.67 506.35 319.00 502.85C320.33 499.35 321.67 495.85 323.00 492.39C324.33 488.93 325.67 485.51 327.00 482.10C328.33 478.70 329.67 475.35 331.00 471.95C332.33 468.55 333.67 465.15 335.00 461.68C336.33 458.22 337.67 454.68 339.00 451.15C340.33 447.61 341.67 444.02 343.00 440.47C344.33 436.93 345.67 433.38 347.00 429.88C348.33 426.38 349.67 422.88 351.00 419.46C352.33 416.05 353.67 412.62 355.00 409.39C356.33 406.16 357.67 403.03 359.00 400.07C360.33 397.12 361.67 394.34 363.00 391.63C364.33 388.92 365.67 386.29 367.00 383.82C368.33 381.35 369.67 378.98 371.00 376.79C372.33 374.59 373.67 372.59 375.00 370.65C376.33 368.71 377.67 366.86 379.00 365.15C380.33 363.44 381.67 361.82 383.00 360.38C384.33 358.93 385.67 357.68 387.00 356.46C388.33 355.23 389.67 354.16 391.00 353.03C392.33 351.91 393.67 350.83 395.00 349.70C396.33 348.58 397.67 347.45 399.00 346.27C400.33 345.10 401.67 343.88 403.00 342.67C404.33 341.46 405.67 340.18 407.00 339.01C408.33 337.83 409.67 336.63 411.00 335.61C412.33 334.60 413.67 333.66 415.00 332.92C416.33 332.18 417.67 331.51 419.00 331.17C420.33 330.82 421.67 330.65 423.00 330.84C424.33 331.02 425.67 331.58 427.00 332.26C428.33 332.94 429.67 333.95 431.00 334.92C432.33 335.89 433.67 337.05 435.00 338.09C436.33 339.12 437.67 340.22 439.00 341.14C440.33 342.05 441.67 342.89 443.00 343.58C444.33 344.28 445.67 344.91 447.00 345.32C448.33 345.74 449.67 346.05 451.00 346.08C452.33 346.10 453.67 345.85 455.00 345.48C456.33 345.11 457.67 344.51 459.00 343.85C460.33 343.18 461.67 342.41 463.00 341.49C464.33 340.57 465.67 339.55 467.00 338.33C468.33 337.11 469.67 335.74 471.00 334.17C472.33 332.60 473.67 330.78 475.00 328.91C476.33 327.03 477.67 324.95 479.00 322.94C480.33 320.93 481.67 318.85 483.00 316.82C484.33 314.80 485.67 312.77 487.00 310.77C488.33 308.77 489.67 306.77 491.00 304.83C492.33 302.90 493.67 300.98 495.00 299.15C496.33 297.32 497.67 295.56 499.00 293.83C500.33 292.11 501.67 290.43 503.00 288.79C504.33 287.16 505.67 285.51 507.00 284.04C508.33 282.56 509.67 281.16 511.00 279.93C512.33 278.71 513.67 277.65 515.00 276.68C516.33 275.71 517.67 274.87 519.00 274.12C520.33 273.37 521.67 272.74 523.00 272.18C524.33 271.63 525.67 271.17 527.00 270.77C528.33 270.37 529.67 270.05 531.00 269.77C532.33 269.49 533.67 269.32 535.00 269.09C536.33 268.85 537.67 268.66 539.00 268.35C540.33 268.03 541.67 267.65 543.00 267.19C544.33 266.73 545.67 266.19 547.00 265.58C548.33 264.98 549.67 264.31 551.00 263.57C552.33 262.84 553.67 262.02 555.00 261.17C556.33 260.32 557.67 259.42 559.00 258.47C560.33 257.53 561.67 256.54 563.00 255.52C564.33 254.50 565.67 253.44 567.00 252.37C568.33 251.30 569.67 250.21 571.00 249.11C572.33 248.00 573.67 246.90 575.00 245.74C576.33 244.57 577.67 243.40 579.00 242.13C580.33 240.86 581.67 239.51 583.00 238.13C584.33 236.76 585.67 235.29 587.00 233.86C588.33 232.43 589.67 230.99 591.00 229.58C592.33 228.18 593.67 226.79 595.00 225.42C596.33 224.04 597.67 222.68 599.00 221.32C600.33 219.96 601.67 218.60 603.00 217.24C604.33 215.88 605.67 214.52 607.00 213.16C608.33 211.80 609.67 210.44 611.00 209.07C612.33 207.70 613.67 206.33 615.00 204.95C616.33 203.57 617.67 202.18 619.00 200.79C620.33 199.40 621.67 198.00 623.00 196.60C624.33 195.20 625.67 193.80 627.00 192.40C628.33 191.00 629.67 189.60 631.00 188.20C632.33 186.80 633.67 185.40 635.00 183.99C636.33 182.58 637.67 181.17 639.00 179.74C640.33 178.31 641.67 176.87 643.00 175.42C644.33 173.97 645.67 172.51 647.00 171.03C648.33 169.55 649.67 168.07 651.00 166.55C652.33 165.04 653.67 163.50 655.00 161.93C656.33 160.37 657.67 158.78 659.00 157.17C660.33 155.56 661.67 153.94 663.00 152.26C664.33 150.58 665.67 148.87 667.00 147.10C668.33 145.33 669.67 143.53 671.00 141.63C672.33 139.74 673.67 137.84 675.00 135.73C676.33 133.63 677.67 131.48 679.00 129.01C680.33 126.53 681.67 123.92 683.00 120.86C684.33 117.79 685.67 114.68 687.00 110.62C688.33 106.57 689.67 100.37 691.00 96.54C692.33 92.71 693.67 89.33 695.00 87.64C696.33 85.94 697.67 85.83 699.00 86.37C700.33 86.92 701.67 89.11 703.00 90.90C704.33 92.69 705.67 95.22 707.00 97.12C708.33 99.03 709.67 100.62 711.00 102.33C712.33 104.03 713.67 105.70 715.00 107.36C716.33 109.01 717.67 110.65 719.00 112.27C720.33 113.90 721.67 115.50 723.00 117.12C724.33 118.75 725.67 120.37 727.00 122.04C728.33 123.70 729.67 125.39 731.00 127.09C732.33 128.80 733.67 130.53 735.00 132.29C736.33 134.05 737.67 135.82 739.00 137.66C740.33 139.49 741.67 141.37 743.00 143.28C744.33 145.20 745.67 147.16 747.00 149.14C748.33 151.12 749.67 153.12 751.00 155.15C752.33 157.19 753.67 159.24 755.00 161.37C756.33 163.50 757.67 165.59 759.00 167.95C760.33 170.30 761.67 172.72 763.00 175.50C764.33 178.27 765.67 181.41 767.00 184.59C768.33 187.78 769.67 191.30 771.00 194.63C772.33 197.96 773.67 201.33 775.00 204.56C776.33 207.78 777.67 210.91 779.00 213.99C780.33 217.08 781.67 220.09 783.00 223.08C784.33 226.07 785.67 229.03 787.00 231.96C788.33 234.88 789.67 237.77 791.00 240.63C792.33 243.50 793.67 246.33 795.00 249.14C796.33 251.96 797.67 254.74 799.00 257.50C800.33 260.25 801.67 262.96 803.00 265.66C804.33 268.36 805.67 271.02 807.00 273.70C808.33 276.37 809.67 279.03 811.00 281.70C812.33 284.37 813.67 287.04 815.00 289.69C816.33 292.35 817.67 295.02 819.00 297.65C820.33 300.28 821.67 302.89 823.00 305.47C824.33 308.05 825.67 310.58 827.00 313.11C828.33 315.63 829.67 318.12 831.00 320.63C832.33 323.13 833.67 325.62 835.00 328.11C836.33 330.60 837.67 333.09 839.00 335.56C840.33 338.03 841.67 340.51 843.00 342.91C844.33 345.31 845.67 347.68 847.00 349.97C848.33 352.27 849.67 354.49 851.00 356.68C852.33 358.87 853.67 361.06 855.00 363.11C856.33 365.15 857.67 367.21 859.00 368.97C860.33 370.73 861.67 372.33 863.00 373.66C864.33 374.99 865.67 376.11 867.00 376.96C868.33 377.81 869.67 378.18 871.00 378.75C872.33 379.31 873.67 379.82 875.00 380.35C876.33 380.88 877.67 381.42 879.00 381.92C880.33 382.42 881.67 382.90 883.00 383.36C884.33 383.83 885.67 384.27 887.00 384.70C888.33 385.14 889.67 385.56 891.00 385.99C892.33 386.42 893.67 386.84 895.00 387.27C896.33 387.70 897.67 388.12 899.00 388.57C900.33 389.02 901.67 389.48 903.00 389.99C904.33 390.49 905.67 391.04 907.00 391.60C908.33 392.16 909.67 392.77 911.00 393.36C912.33 393.96 913.67 394.56 915.00 395.17C916.33 395.77 917.67 396.37 919.00 396.99C920.33 397.60 921.67 398.20 923.00 398.86C924.33 399.52 925.67 400.19 927.00 400.93C928.33 401.67 929.67 402.48 931.00 403.31C932.33 404.15 933.67 405.03 935.00 405.93C936.33 406.83 937.67 407.74 939.00 408.71C940.33 409.67 941.67 410.69 943.00 411.74C944.33 412.80 945.67 413.92 947.00 415.04C948.33 416.16 949.67 417.32 951.00 418.46C952.33 419.60 953.67 420.75 955.00 421.89C956.33 423.03 957.67 424.17 959.00 425.31C960.33 426.45 961.67 427.59 963.00 428.73C964.33 429.88 965.67 431.02 967.00 432.16C968.33 433.30 969.67 434.44 971.00 435.57C972.33 436.71 973.67 437.85 975.00 438.98C976.33 440.12 977.67 441.25 979.00 442.38C980.33 443.51 981.67 444.64 983.00 445.77C984.33 446.90 985.67 448.03 987.00 449.16C988.33 450.29 989.67 451.42 991.00 452.55C992.33 453.68 993.67 454.80 995.00 455.92C996.33 457.03 997.67 458.14 999.00 459.23C1000.33 460.32 1001.67 461.40 1003.00 462.48C1004.33 463.55 1005.67 464.62 1007.00 465.69C1008.33 466.76 1009.67 467.82 1011.00 468.89C1012.33 469.96 1013.67 471.03 1015.00 472.08C1016.33 473.13 1017.67 474.19 1019.00 475.20C1020.33 476.21 1021.67 477.19 1023.00 478.13C1024.33 479.07 1025.67 479.95 1027.00 480.84C1028.33 481.73 1029.67 482.59 1031.00 483.46C1032.33 484.33 1033.67 485.19 1035.00 486.05C1036.33 486.92 1037.67 487.78 1039.00 488.65C1040.33 489.52 1041.67 490.38 1043.00 491.26C1044.33 492.13 1045.67 493.01 1047.00 493.90C1048.33 494.79 1049.67 495.68 1051.00 496.58C1052.33 497.48 1053.67 498.38 1055.00 499.29C1056.33 500.21 1057.67 501.13 1059.00 502.08C1060.33 503.02 1061.67 503.99 1063.00 504.98C1064.33 505.97 1065.67 506.97 1067.00 508.01C1068.33 509.04 1069.67 510.10 1071.00 511.17C1072.33 512.24 1073.67 513.34 1075.00 514.43C1076.33 515.52 1077.67 516.63 1079.00 517.70C1080.33 518.76 1081.67 519.83 1083.00 520.83C1084.33 521.84 1085.67 522.82 1087.00 523.73C1088.33 524.65 1089.67 525.53 1091.00 526.33C1092.33 527.13 1093.67 527.86 1095.00 528.54C1096.33 529.22 1097.67 529.82 1099.00 530.43C1100.33 531.03 1101.67 531.60 1103.00 532.18C1104.33 532.75 1105.67 533.30 1107.00 533.86C1108.33 534.43 1109.67 534.96 1111.00 535.55C1112.33 536.13 1113.67 536.72 1115.00 537.35C1116.33 537.99 1117.67 538.70 1119.00 539.37C1120.33 540.04 1121.67 540.74 1123.00 541.36C1124.33 541.98 1125.67 542.52 1127.00 543.08C1128.33 543.63 1129.67 544.12 1131.00 544.71C1132.33 545.29 1133.67 545.90 1135.00 546.59C1136.33 547.27 1137.67 547.99 1139.00 548.81C1140.33 549.64 1141.58 550.52 1143.00 551.54C1144.42 552.56 1146.75 554.36 1147.50 554.92"/>
</g>
<circle cx="1156.5" cy="554.1" r="4.5" fill="#fff" stroke="#02679b" stroke-width="2.8"/>
<text x="100.3" y="587.95" font-size="32" text-anchor="end">10.000</text>
<text x="100.3" y="505.60" font-size="32" text-anchor="end">20.000</text>
<text x="100.3" y="423.25" font-size="32" text-anchor="end">30.000</text>
<text x="100.3" y="340.90" font-size="32" text-anchor="end">40.000</text>
<text x="100.3" y="258.55" font-size="32" text-anchor="end">50.000</text>
<text x="100.3" y="176.20" font-size="32" text-anchor="end">60.000</text>
<text x="100.3" y="93.85" font-size="32" text-anchor="end">70.000</text>
<text x="109.05" y="707.3" font-size="30" text-anchor="middle" letter-spacing="-1.1">1945</text>
<text x="253.15" y="707.3" font-size="30" text-anchor="middle" letter-spacing="-1.1">1955</text>
<text x="397.25" y="707.3" font-size="30" text-anchor="middle" letter-spacing="-1.1">1965</text>
<text x="541.35" y="707.3" font-size="30" text-anchor="middle" letter-spacing="-1.1">1975</text>
<text x="685.45" y="707.3" font-size="30" text-anchor="middle" letter-spacing="-1.1">1985</text>
<text x="829.55" y="707.3" font-size="30" text-anchor="middle" letter-spacing="-1.1">1995</text>
<text x="973.65" y="707.3" font-size="30" text-anchor="middle" letter-spacing="-1.1">2005</text>
<text x="1117.75" y="707.3" font-size="30" text-anchor="middle" letter-spacing="-1.1">2015</text>
<g fill="none" stroke-linecap="round" stroke-width="7.4">
<line x1="1022.7" y1="85.2" x2="1063.5" y2="85.2" stroke="#02679b"/>
<line x1="1022.7" y1="129.4" x2="1063.5" y2="129.4" stroke="#bd0810"/>
<line x1="1022.7" y1="224.7" x2="1063.5" y2="224.7" stroke="#a0bbdb"/>
</g>
<text x="1086.5" y="93.2" font-size="33" letter-spacing="1.7">Total</text>
<text x="1085.2" y="139.2" font-size="33" letter-spacing="1.1">URSS/</text>
<text x="1085.5" y="177.4" font-size="33" letter-spacing="-0.6">Rusia</text>
<text x="1086" y="236.3" font-size="33" textLength="92.2" lengthAdjust="spacingAndGlyphs">EE UU</text>
<text x="1137" y="429" font-size="32.5" text-anchor="middle" letter-spacing="1.5">Total</text>
<text x="1136" y="467.3" font-size="31" text-anchor="middle">2017</text>
<text x="1136.2" y="506" class="bold" font-size="32.5" font-weight="bold" text-anchor="middle" letter-spacing="1.2">14.550</text>
<g class="foot" font-size="23.5">
<text class="foot" x="386.1" y="805.6" textLength="76.8" lengthAdjust="spacingAndGlyphs">Fuente:</text>
<text class="foot" x="469.1" y="805.6" textLength="85.2" lengthAdjust="spacingAndGlyphs">Instituto</text>
<text class="foot" x="560.1" y="805.6" textLength="26.4" lengthAdjust="spacingAndGlyphs">de</text>
<text class="foot" x="591.4" y="805.6" textLength="136.3" lengthAdjust="spacingAndGlyphs">Investigación</text>
<text class="foot" x="732.6" y="805.6" textLength="48.1" lengthAdjust="spacingAndGlyphs">para</text>
<text class="foot" x="785.1" y="805.6" textLength="16.6" lengthAdjust="spacingAndGlyphs">la</text>
<text class="foot" x="807.3" y="805.6" textLength="40.2" lengthAdjust="spacingAndGlyphs">Paz</text>
<text class="foot" x="850.6" y="805.6" textLength="26.6" lengthAdjust="spacingAndGlyphs">de</text>
<text class="foot" x="882.1" y="805.6" textLength="109.4" lengthAdjust="spacingAndGlyphs">Estocolmo</text>
<text class="foot" x="996.4" y="805.6" textLength="81.4" lengthAdjust="spacingAndGlyphs">(SIPRI).</text>
<text class="foot" x="1119.3" y="805.6" textLength="26.8" lengthAdjust="spacingAndGlyphs">EL</text>
<text class="foot" x="1150.5" y="805.6" textLength="50.1" lengthAdjust="spacingAndGlyphs">PAÍS</text>
</g>
</svg>
</body></html>
